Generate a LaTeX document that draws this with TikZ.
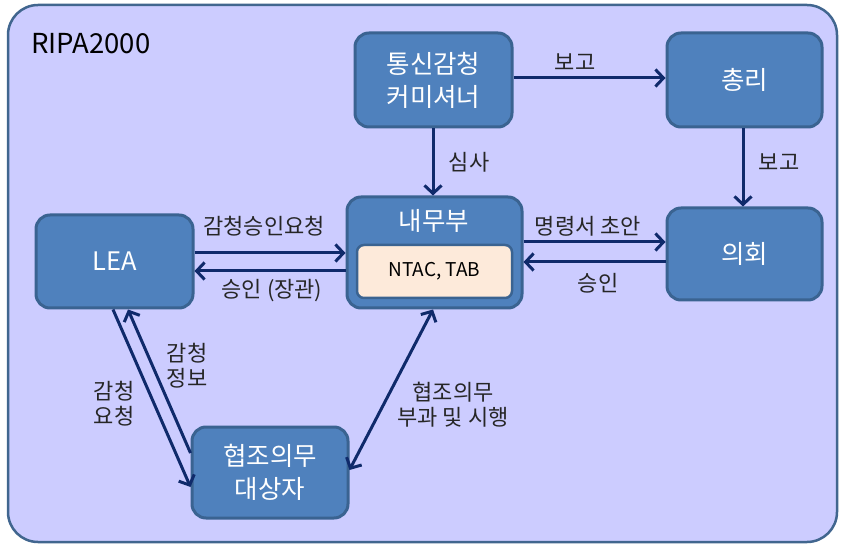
\documentclass[tikz,border=0pt]{standalone}
\usepackage{fontspec}
\setmainfont{Noto Sans CJK KR}
\usetikzlibrary{arrows.meta,calc}
\definecolor{bgfill}{HTML}{CCCCFF}
\definecolor{bgline}{HTML}{41668F}
\definecolor{boxfill}{HTML}{4F81BD}
\definecolor{boxline}{HTML}{3A6391}
\definecolor{innerfill}{HTML}{FDEADA}
\definecolor{arrcol}{HTML}{0F2A6B}
\definecolor{txt}{HTML}{262626}
\tikzset{
  bluebox/.style={draw=boxline, line width=3pt, fill=boxfill, rounded corners=14pt,
    text=white, align=center, font=\fontsize{25.5}{33}\selectfont, inner sep=0pt},
  innerbox/.style={draw=boxline, line width=2.5pt, fill=innerfill, rounded corners=7pt,
    text=black, align=center, font=\fontsize{19}{22}\selectfont, inner sep=0pt},
  arr/.style={draw=arrcol, line width=3pt, -{Straight Barb[length=8pt,width=17pt]}},
  darr/.style={draw=arrcol, line width=3pt, {Straight Barb[length=8pt,width=17pt]}-{Straight Barb[length=8pt,width=17pt]}},
  lbl/.style={text=txt, align=center, font=\fontsize{22}{25}\selectfont, inner sep=0pt}
}
\begin{document}
\begin{tikzpicture}[x=1pt,y=-1pt]
\useasboundingbox (0,0) rectangle (841,545);
\draw[draw=bgline, line width=2.5pt, fill=bgfill, rounded corners=30pt] (8,5) rectangle (837,542);
\node[anchor=west, text=black, font=\fontsize{27.5}{30}\selectfont, inner sep=0pt] (title) at (31,44) {RIPA2000};

\node[bluebox, minimum width=157pt, minimum height=94pt] (comm) at (433.5,80) {통신감청\\커미셔너};
\node[bluebox, minimum width=155pt, minimum height=94pt] (pm) at (744.5,80) {총리};
\node[bluebox, minimum width=175pt, minimum height=111pt] (home) at (434.5,252.5) {};
\node[text=white, font=\fontsize{25.5}{33}\selectfont, inner sep=0pt] (homet) at (434,221) {내무부};
\node[innerbox, minimum width=155pt, minimum height=53pt] (ntac) at (434.5,271.5) {NTAC, TAB};
\node[bluebox, minimum width=155pt, minimum height=92pt] (parl) at (744.5,254) {의회};
\node[bluebox, minimum width=157pt, minimum height=93pt] (lea) at (114.5,261.5) {LEA};
\node[bluebox, minimum width=156pt, minimum height=91pt] (csp) at (270,472.5) {협조의무\\대상자};

\draw[arr] ([yshift=2pt]comm.east) -- ([yshift=2pt]pm.west);
\draw[arr] ([xshift=-1.5pt]pm.south) -- ([xshift=-1.5pt]parl.north);
\draw[arr] ([xshift=-0.5pt]comm.south) -- ([xshift=-1.5pt]home.north);
\draw[arr] ([yshift=10.5pt]home.east) -- ([yshift=12pt]parl.west);
\draw[arr] ([yshift=-8pt]parl.west) -- ([yshift=-9.5pt]home.east);
\draw[arr] ([yshift=8.5pt]lea.east) -- ([yshift=-0.5pt]home.west);
\draw[arr] ([yshift=-18.5pt]home.west) -- ([yshift=-9.5pt]lea.east);
\draw[arr] ([xshift=-1.5pt]lea.south) -- ([yshift=-14.5pt]csp.west);
\draw[arr] ([yshift=19.5pt]csp.west) -- ([xshift=13.5pt]lea.south);
\draw[darr] ([xshift=-1.5pt]home.south) -- ([yshift=2.5pt]csp.east);

\node[lbl] (l1) at (575,62) {보고};
\node[lbl] (l2) at (779,162) {보고};
\node[lbl] (l3) at (469,162) {심사};
\node[lbl] (l4) at (588,226) {명령서 초안};
\node[lbl] (l5) at (598,283) {승인};
\node[lbl] (l6) at (264,226) {감청승인요청};
\node[lbl] (l7) at (272,291) {승인 (장관)};
\node[lbl] (l8) at (114,404) {감청\\요청};
\node[lbl] (l9) at (187,366) {감청\\정보};
\node[lbl] (l10) at (453,405) {협조의무\\부과 및 시행};
\end{tikzpicture}
\end{document}
